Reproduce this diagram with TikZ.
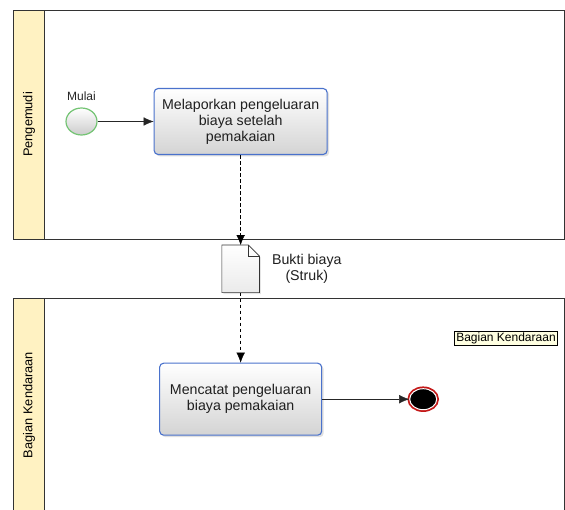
\documentclass[tikz,border=0pt]{standalone}
\usepackage{fontspec}
\setmainfont{Liberation Sans}
\usepackage{tikz}
\usetikzlibrary{arrows.meta,positioning,shapes.geometric,shadows}
\definecolor{lanefill}{HTML}{FFF2C2}
\definecolor{taskblue}{HTML}{4A72CC}
\definecolor{startgreen}{HTML}{74C474}
\definecolor{endred}{HTML}{C41818}
\definecolor{tipfill}{HTML}{FFFFE1}

\begin{document}
\begin{tikzpicture}[x=1pt, y=-1pt, >={Latex[length=10pt,width=8.5pt]}, semithick,
		task/.style={draw=taskblue, line width=1.1pt, rounded corners=4pt, top color=white, bottom color=black!17, align=center, inner sep=0pt, font=\fontsize{14.2}{16}\selectfont, text=black!88, drop shadow={opacity=0.25, shadow xshift=2pt, shadow yshift=-2pt}},
		startev/.style={ellipse, draw=startgreen, line width=1.2pt, top color=white, bottom color=black!20, minimum width=31pt, minimum height=27pt, inner sep=0pt},
		endev/.style={ellipse, preaction={draw=endred, line width=4.5pt}, draw=white, line width=1pt, fill=black, minimum width=27pt, minimum height=21pt, inner sep=0pt},
		flow/.style={->, black!85, thin},
		msg/.style={->, thin, dash pattern=on 3.5pt off 2.5pt},
		lane/.style={draw=black!80, thin},
		band/.style={draw=black!80, fill=lanefill, thin}]
				\useasboundingbox (0,0) rectangle (565,510);
				\fill[white] (0,0) rectangle (565,510);

				% pools
				\draw[lane] (13,10) rectangle (564,239);
				\draw[band] (13,10) rectangle (44,239);
				\node[rotate=90, font=\fontsize{12.8}{14}\selectfont] (pengemudi) at (29,124.5) {Pengemudi};
				\draw[lane] (13,520) |- (564,298) -- (564,520);
				\draw[band] (13,520) |- (44,298) -- (44,520);
				\node[rotate=90, font=\fontsize{12.8}{14}\selectfont] (bagian) at (29,405) {Bagian Kendaraan};

		  		\node[startev]       (mulai) at (81.5,121.5) {};
		  		\node[font=\fontsize{12}{13}\selectfont, text=black!85, above=3pt of mulai] (mulailbl) {Mulai};
		  		\node[task, minimum width=173pt, minimum height=66pt, right=56pt of mulai] (lapor) {Melaporkan pengeluaran\\biaya setelah\\pemakaian};
		  		\node[minimum width=37pt, minimum height=47pt, inner sep=0pt, below=90pt of lapor] (bukti) {};
		  		\node[font=\fontsize{14.2}{16}\selectfont, text=black!88, align=center, right=9pt of bukti] (buktilbl) {Bukti biaya\\(Struk)};
		  		\node[task, minimum width=162pt, minimum height=72pt, below=70pt of bukti] (catat) {Mencatat pengeluaran\\biaya pemakaian};
		  		\node[endev, right=87pt of catat] (selesai) {};
		  		\node[draw=black, fill=tipfill, inner sep=1.5pt, font=\fontsize{12}{13}\selectfont] (tip) at (506,338.5) {Bagian Kendaraan};

				% document
				\draw[black!80, top color=white, bottom color=black!8, drop shadow={opacity=0.2, shadow xshift=1.5pt, shadow yshift=-1.5pt}] (bukti.north west) -- ([xshift=-11pt]bukti.north east) -- ([yshift=-11pt]bukti.north east) -- (bukti.south east) -- (bukti.south west) -- cycle;
				\draw[black!80] ([xshift=-11pt]bukti.north east) |- ([yshift=-11pt]bukti.north east);

		  		\draw[flow] (mulai) -- (lapor);
		  		\draw[msg]  (lapor) -- (bukti);
		  		\draw[msg]  (bukti) -- (catat);
		  		\draw[flow] (catat) -- (selesai);

			\end{tikzpicture}
\end{document}
